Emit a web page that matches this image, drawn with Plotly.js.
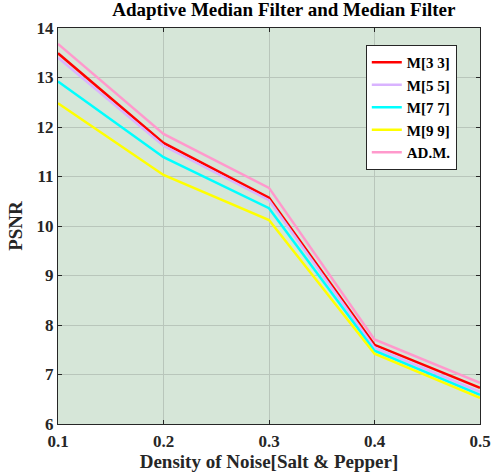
<!DOCTYPE html>
<html><head><meta charset="utf-8">
<script src="https://cdn.plot.ly/plotly-3.0.1.min.js"></script>
<style>body{margin:0;background:#fff}#c{width:492px;height:476px}</style>
</head><body><div id="c"></div>
<script>
const density = [0.1, 0.2, 0.3, 0.4, 0.5];
const m33 = [13.49, 11.68, 10.57, 7.60, 6.73];
const m55 = [13.40, 11.62, 10.52, 7.54, 6.65];
const m77 = [12.92, 11.39, 10.36, 7.48, 6.59];
const m99 = [12.48, 11.03, 10.12, 7.42, 6.53];
const adm = [13.68, 11.86, 10.77, 7.71, 6.83];
const names = ['M[3 3]', 'M[5 5]', 'M[7 7]', 'M[9 9]', 'AD.M.'];
const colors = ['#ff0000', '#d9b3ff', '#00ffff', '#ffff00', '#ff99cc'];
const series = [m33, m55, m77, m99, adm];
const font = {family: 'Liberation Serif, Times New Roman, serif', color: '#262626'};
const traces = series.map((y, i) => ({
  x: density, y: y, type: 'scatter', mode: 'lines', name: names[i],
  line: {color: colors[i], width: 2.5}
}));
const axisCommon = {
  showline: true, mirror: 'ticks', linecolor: '#262626', linewidth: 1,
  ticks: 'inside', ticklen: 4, tickcolor: '#262626',
  showgrid: true, gridcolor: '#b9c6bb', gridwidth: 1, zeroline: false,
  tickfont: {family: font.family, size: 17, color: '#262626', weight: 'bold'}
};
const layout = {
  width: 492, height: 476,
  margin: {l: 58, r: 12, t: 28, b: 52},
  paper_bgcolor: '#ffffff', plot_bgcolor: '#d6e6d8',
  title: {text: '<b>Adaptive Median Filter and Median Filter</b>', x: 0.577, xanchor: 'center', y: 0.994, yanchor: 'top',
    font: {family: font.family, size: 19, color: '#000'}},
  xaxis: Object.assign({}, axisCommon, {range: [0.1, 0.5], tickvals: [0.1, 0.2, 0.3, 0.4, 0.5], ticktext: ['0.1','0.2','0.3','0.4','0.5'],
    ticklabelstandoff: 2,
    title: {text: '<b>Density of Noise[Salt &amp; Pepper]</b>', standoff: 2, font: {family: font.family, size: 19, color: '#262626'}}}),
  yaxis: Object.assign({}, axisCommon, {range: [6, 14], dtick: 1,
    title: {text: '<b>PSNR</b>', standoff: 8, font: {family: font.family, size: 19, color: '#262626'}}}),
  legend: {x: 0.945, xanchor: 'right', y: 0.957, yanchor: 'top', bgcolor: '#ffffff', bordercolor: '#262626', borderwidth: 1,
    font: {family: font.family, size: 15, color: '#000', weight: 'bold'}, tracegroupgap: 0, itemwidth: 30},
  showlegend: true
};
Plotly.newPlot('c', traces, layout, {displayModeBar: false, staticPlot: true});
</script></body></html>
